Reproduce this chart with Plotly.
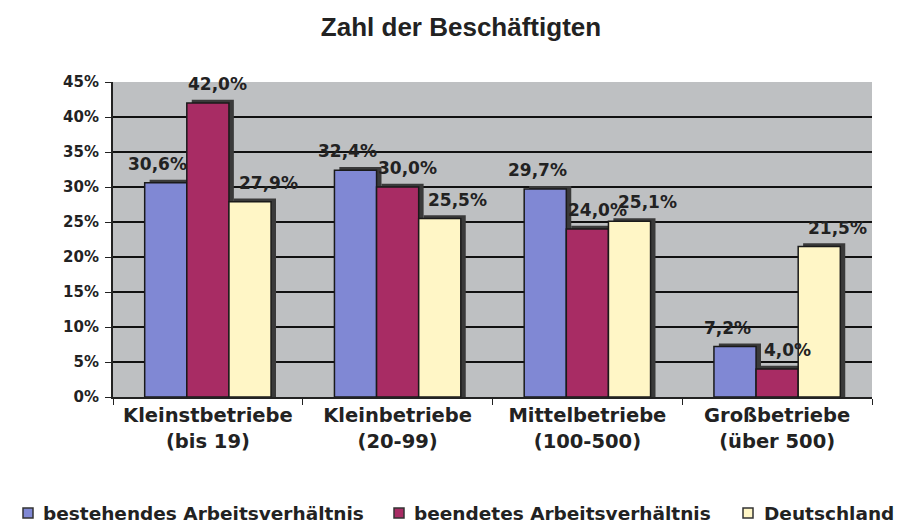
import plotly.graph_objects as go

categories = ["Kleinstbetriebe<br>(bis 19)", "Kleinbetriebe<br>(20-99)",
              "Mittelbetriebe<br>(100-500)", "Großbetriebe<br>(über 500)"]
series_names = ["bestehendes Arbeitsverhältnis", "beendetes Arbeitsverhältnis", "Deutschland"]
bestehend = [30.6, 32.4, 29.7, 7.2]
beendet = [42.0, 30.0, 24.0, 4.0]
deutschland = [27.9, 25.5, 25.1, 21.5]
tick_vals = [0, 5, 10, 15, 20, 25, 30, 35, 40, 45]
tick_text = [f"{v}%" for v in tick_vals]
colors = ["#8088D4", "#A82C64", "#FFF6C6"]

TITLE_FONT = "Liberation Sans, Arial, sans-serif"
FONT = "DejaVu Sans, sans-serif"
BAR_W = 0.222
DEPTH_X = 0.026
DEPTH_Y = 0.45

# page body has an 8px margin; figure sized so that it fills the window
W, H = 896, 518
ML, MR, MT, MB = 105, 32, 74, 129
PW, PH = W - ML - MR, H - MT - MB
CAT_PX = PW / len(categories)
LABEL_DX = [-8, 10, 18]   # label nudges (px) relative to bar centre

def lbl(vals):
    return [f"{v:.1f}%".replace(".", ",") for v in vals]

fig = go.Figure()
annotations = []
for i, (name, vals, c) in enumerate(zip(series_names, [bestehend, beendet, deutschland], colors)):
    off = -0.333 + i * BAR_W
    fig.add_trace(go.Bar(
        x=categories, y=[v + DEPTH_Y for v in vals], offset=off + DEPTH_X, width=BAR_W,
        marker=dict(color="#3a3a3a", line=dict(width=0)),
        showlegend=False, hoverinfo="skip",
    ))
    fig.add_trace(go.Bar(
        x=categories, y=vals, name=name, offset=off, width=BAR_W,
        marker=dict(color=c, line=dict(color="#1a1a1a", width=1.5)),
        showlegend=False,
    ))
    dx = (off + BAR_W / 2) * CAT_PX + LABEL_DX[i]
    for cat, v, t in zip(categories, vals, lbl(vals)):
        annotations.append(dict(
            x=cat, y=v, xref="x", yref="y", text=t, showarrow=False,
            xanchor="center", yanchor="middle", xshift=dx, yshift=19,
            font=dict(family=FONT, size=17, color="#222222", weight="bold"),
        ))

# legend (drawn below the plot, like the original); positions in figure pixels
legend_marker_x = [15, 386, 735]
legend_text_x = [33, 404, 888]
legend_text_anchor = ["left", "left", "right"]
legend_y = 505
shapes = []
for name, c, mx, tx, anc in zip(series_names, colors, legend_marker_x,
                                legend_text_x, legend_text_anchor):
    shapes.append(dict(type="rect", xref="paper", yref="paper",
                       x0=(mx - ML) / PW, x1=(mx + 10 - ML) / PW,
                       y0=(MT + PH - (legend_y + 5)) / PH, y1=(MT + PH - (legend_y - 5)) / PH,
                       fillcolor=c, line=dict(color="#333333", width=1.5)))
    annotations.append(dict(
        x=(tx - ML) / PW, y=(MT + PH - legend_y) / PH, xref="paper", yref="paper",
        text=name, showarrow=False, xanchor=anc, yanchor="middle",
        font=dict(family=FONT, size=18.5, color="#222222", weight="bold"),
    ))

fig.update_layout(
    width=W, height=H,
    paper_bgcolor="white", plot_bgcolor="#BEC0C2",
    margin=dict(l=ML, r=MR, t=MT, b=MB, autoexpand=False),
    title=dict(text="<b>Zahl der Beschäftigten</b>", x=(461 - 8) / W, xanchor="center",
               y=1 - 19 / H, yanchor="middle",
               font=dict(family=TITLE_FONT, size=26, color="#222222")),
    barmode="overlay",
    showlegend=False,
    annotations=annotations,
    shapes=shapes,
    font=dict(family=FONT),
)
fig.update_xaxes(
    showline=True, linecolor="#222222", linewidth=2,
    ticks="outside", tickson="boundaries", ticklen=6, tickcolor="#222222",
    tickfont=dict(family=FONT, size=19.5, color="#222222", weight="bold"),
    showgrid=False,
)
fig.update_yaxes(
    range=[0, 45], tickvals=tick_vals, ticktext=tick_text,
    showline=True, linecolor="#222222", linewidth=2,
    ticks="outside", ticklen=6, tickcolor="#222222", ticklabelstandoff=3,
    gridcolor="#111111", gridwidth=2,
    tickfont=dict(family=FONT, size=15, color="#222222", weight="bold"),
    zeroline=False,
)
fig.write_html("out.html")
